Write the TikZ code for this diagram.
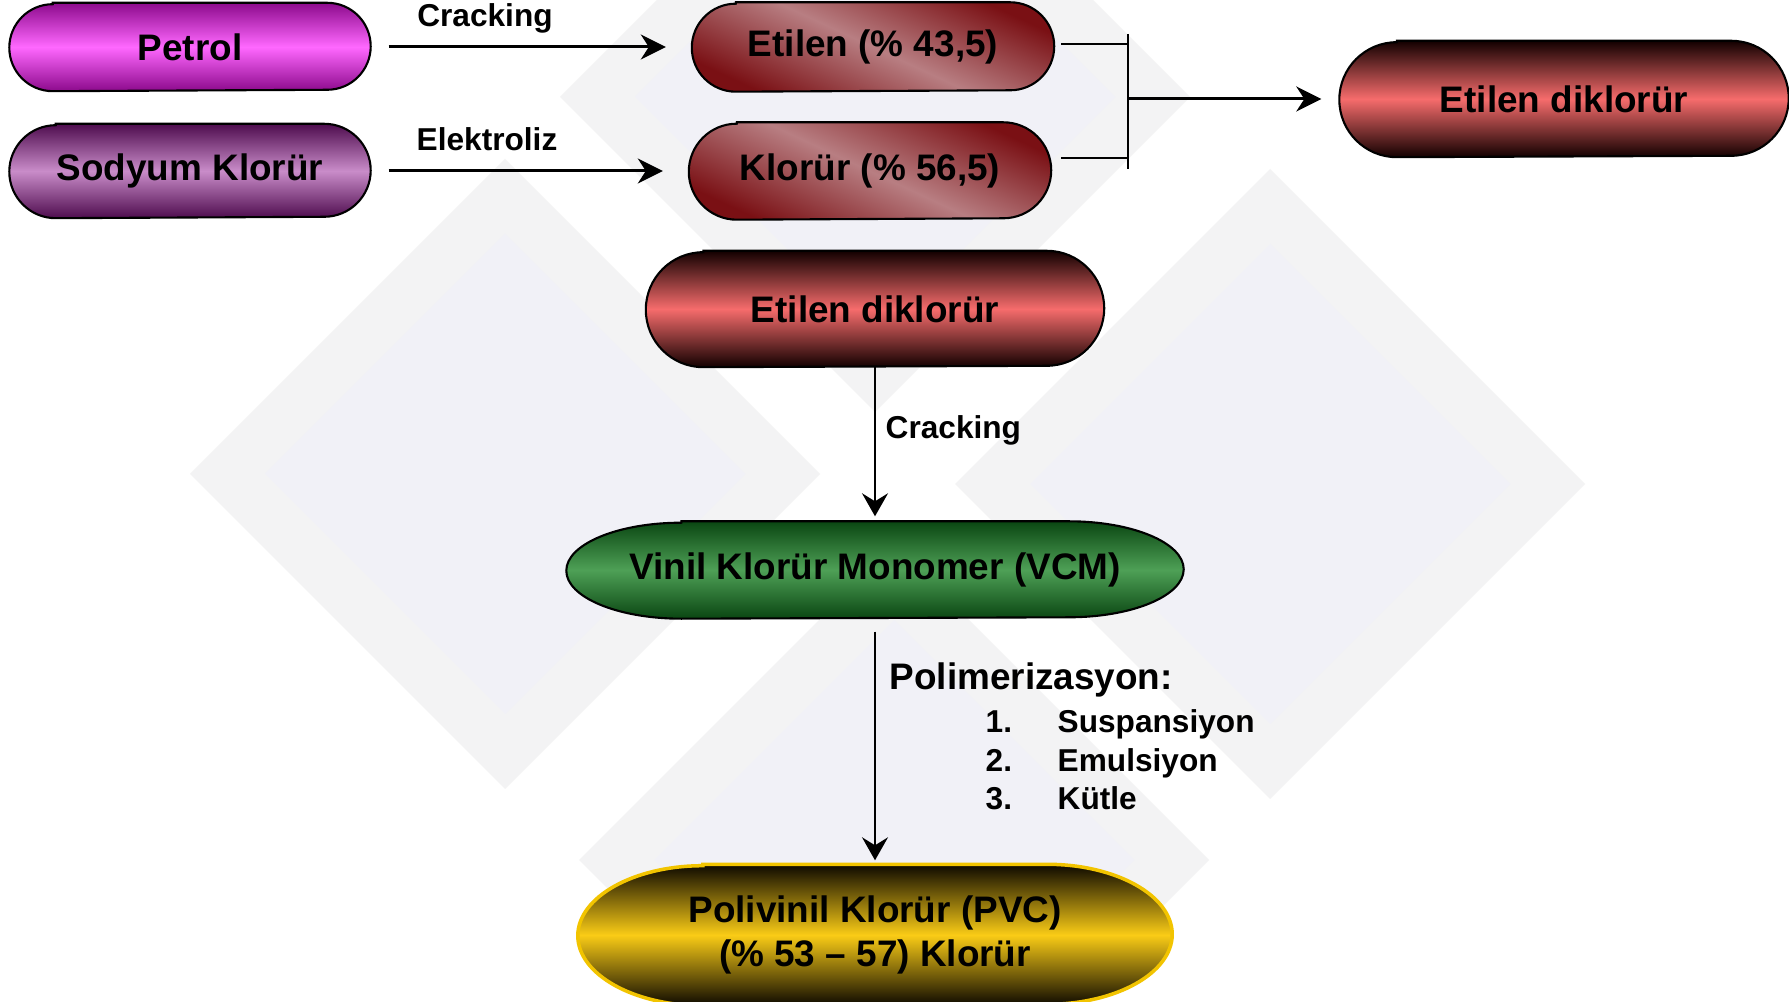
\documentclass[tikz,border=0pt]{standalone}
\usepackage{fontspec}
\setmainfont{Liberation Sans}
\usetikzlibrary{arrows.meta,backgrounds}

\definecolor{wmouter}{RGB}{243,243,244}
\definecolor{wminner}{RGB}{241,241,247}
\definecolor{petrolend}{RGB}{140,10,140}
\definecolor{petrolmid}{RGB}{255,104,255}
\definecolor{sodyumend}{RGB}{78,12,78}
\definecolor{sodyummid}{RGB}{201,140,201}
\definecolor{etdark}{RGB}{122,16,20}
\definecolor{etlight}{RGB}{184,126,130}
\definecolor{edcend}{RGB}{18,0,0}
\definecolor{edcmid}{RGB}{246,108,108}
\definecolor{vcmend}{RGB}{10,70,18}
\definecolor{vcmmid}{RGB}{78,160,86}
\definecolor{pvcend}{RGB}{12,8,0}
\definecolor{pvcmid}{RGB}{250,204,22}
\definecolor{pvcline}{RGB}{242,196,0}

% capsule behind a node: name, x radius, y radius, style
\newcommand{\pill}[4]{%
	\path[#4]	([xshift=#2]#1.north west) -- ([xshift=-#2]#1.north east)
		arc[start angle=90,end angle=-90,x radius=#2,y radius=#3]
		-- ([xshift=#2]#1.south west)
		arc[start angle=270,end angle=90,x radius=#2,y radius=#3] -- cycle;}

\begin{document}
\begin{tikzpicture}[x=0.1mm,y=0.1mm]

		\tikzstyle{capsule}=[rectangle,inner sep=0mm,
			align=center,
			font=\bfseries\fontsize{10.5}{12.5}\selectfont]
		\tikzstyle{tag}=[inner sep=0mm,
			font=\bfseries\fontsize{9}{11}\selectfont]
		\tikzstyle{arrow}=[-{Stealth[length=2.5mm,width=2.5mm,inset=0.8mm]},
			draw=black,line width=0.85pt,
			shorten <=1.8mm,shorten >=2.6mm]
		\tikzstyle{thin arrow}=[-{Stealth[length=2.3mm,width=2.6mm,inset=0.8mm]},
			draw=black,line width=0.5pt]
		\tikzstyle{bracket}=[draw=black,line width=0.6pt]
		\tikzstyle{rim}=[draw=black,line width=0.6pt]
		\tikzstyle{petrol fill}=[rim,top color=petrolend,bottom color=petrolend,middle color=petrolmid]
		\tikzstyle{sodyum fill}=[rim,top color=sodyumend,bottom color=sodyumend,middle color=sodyummid]
		\tikzstyle{et fill}=[rim,top color=etdark,bottom color=etdark,middle color=etlight,shading angle=-25]
		\tikzstyle{edc fill}=[rim,top color=edcend,bottom color=edcend,middle color=edcmid]
		\tikzstyle{vcm fill}=[rim,top color=vcmend,bottom color=vcmend,middle color=vcmmid]
		\tikzstyle{pvc fill}=[draw=pvcline,line width=1pt,top color=pvcend,bottom color=pvcend,middle color=pvcmid]

		\useasboundingbox (0,0) rectangle (1789,1001);

		\node[capsule,minimum width=36mm,minimum height=8.7mm]	(petrol)	at (190,954)	{Petrol};
		\node[capsule,minimum width=36mm,minimum height=9.3mm]	(sodyum)	at (190,830)	{Sodyum Klorür};
		\node[capsule,minimum width=36.1mm,minimum height=8.8mm]	(etilen)	at (873,954)	{Etilen (\% 43,5)};
		\node[capsule,minimum width=36.1mm,minimum height=9.6mm]	(klorur)	at (870,830)	{Klorür (\% 56,5)};
		\node[capsule,minimum width=44.8mm,minimum height=11.5mm]	(edc-right)	at (1564,902)	{Etilen diklorür};
		\node[capsule,minimum width=45.7mm,minimum height=11.5mm]	(edc)	at (875,692)	{Etilen diklorür};
		\node[capsule,minimum width=61.6mm,minimum height=9.6mm]	(vcm)	at (875,431)	{Vinil Klorür Monomer (VCM)};
		\node[capsule,minimum width=59.3mm,minimum height=14mm]	(pvc)	at (875,66)	{Polivinil Klorür (PVC)\\ (\% 53 – 57) Klorür};

		\node[tag]	(crack-1)	at (485,983)	{Cracking};
		\node[tag]	(elektro)	at (487,862)	{Elektroliz};
		\node[tag,anchor=west]	(crack-2)	at (885,571)	{Cracking};
		\node[tag,anchor=west,font=\bfseries\fontsize{10.5}{12.5}\selectfont]	(polim)	at (889,321)	{Polimerizasyon:};
		\node[tag,anchor=west,align=left]	(methods)	at (985,241)
			{\makebox[7.2mm][l]{1.}Suspansiyon\\ \makebox[7.2mm][l]{2.}Emulsiyon\\ \makebox[7.2mm][l]{3.}Kütle};

		\coordinate	(jn)	at (1128,902);
		\coordinate	(bar-top)	at (1128,967);
		\coordinate	(bar-bot)	at (1128,832);

		\draw[arrow]	(petrol)	--	(etilen);
		\draw[arrow]	(sodyum)	--	(klorur);

		\draw[bracket]	([shift={(0.7mm,0.3mm)}]etilen.east)	-- ++(6.6mm,0);
		\draw[bracket]	([shift={(1mm,1.3mm)}]klorur.east)	-- ++(6.6mm,0);
		\draw[bracket]	(bar-top)	--	(bar-bot);
		\draw[arrow,shorten <=0mm,shorten >=1.8mm]	(jn)	--	(edc-right);

		\draw[thin arrow,shorten >=0.5mm]	(edc)	--	(vcm);
		\draw[thin arrow,shorten <=1.3mm,shorten >=0.4mm]	(vcm)	--	(pvc);

		\begin{scope}[on background layer]
			\fill[white]	(0,0) rectangle (1789,1001);
			\begin{scope}
				\clip	(0,0) rectangle (1789,1001);
				% watermark
				\foreach \cx/\cy in {875/904,505/527,1270/517,894/141}{
					\fill[wmouter]	(\cx-315,\cy) -- (\cx,\cy+315) -- (\cx+315,\cy) -- (\cx,\cy-315) -- cycle;
					\fill[wminner]	(\cx-240,\cy) -- (\cx,\cy+240) -- (\cx+240,\cy) -- (\cx,\cy-240) -- cycle;
				}
			\end{scope}
			\pill{petrol}{4.35mm}{4.35mm}{petrol fill}
			\pill{sodyum}{4.65mm}{4.65mm}{sodyum fill}
			\pill{etilen}{4.4mm}{4.4mm}{et fill}
			\pill{klorur}{4.8mm}{4.8mm}{et fill}
			\pill{edc-right}{5.75mm}{5.75mm}{edc fill}
			\pill{edc}{5.75mm}{5.75mm}{edc fill}
			\pill{vcm}{11.5mm}{4.8mm}{vcm fill}
			\pill{pvc}{12.5mm}{7mm}{pvc fill}
		\end{scope}

	\end{tikzpicture}
\end{document}
